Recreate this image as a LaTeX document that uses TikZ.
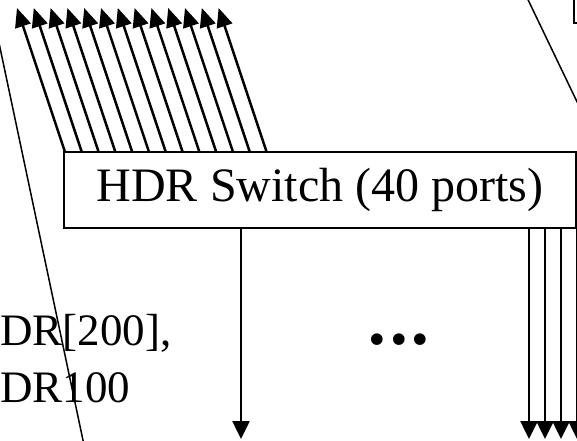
\documentclass[tikz,border=0pt]{standalone}
\usepackage{fontspec}
\setmainfont{Liberation Serif}
\newfontfamily\dejavu{DejaVu Sans}
\usetikzlibrary{arrows.meta}
\begin{document}
\begin{tikzpicture}[x=1pt,y=-1pt,
  conn/.style={line width=2.5pt},
  uparr/.style={conn,-{Triangle[length=19pt,width=16pt]}},
  downarr/.style={conn,-{Triangle[length=18pt,width=17pt]}},
  slant/.style={line width=1.5pt},
  swbox/.style={draw,line width=2.2pt,minimum width=512pt,minimum height=76pt,inner sep=0pt,font=\fontsize{48}{58}\selectfont},
  lbl/.style={anchor=base west,inner sep=0pt,font=\fontsize{45}{57}\selectfont}]
\useasboundingbox (0,0) rectangle (577,440);
\clip (0,0) rectangle (577,440);
\fill[white] (0,0) rectangle (577,440);
% slanted thin lines
\coordinate (l1) at (-5,24);
\coordinate (l2) at (84,445);
\draw[slant] (l1) -- (l2);
\coordinate (r1) at (520,-17);
\coordinate (r2) at (580,108);
\draw[slant] (r1) -- (r2);
% partial box top right
\node[draw,line width=2.2pt,minimum width=60pt,minimum height=60pt,inner sep=0pt,anchor=south west] (tr) at (573,24) {};
% switch
\node[swbox] (sw) at (320,190) {HDR Switch (40 ports)};
% up arrows
\foreach \i in {0,...,12} {
  \coordinate (ub\i) at ({65+16.8*\i},152);
  \coordinate (ut\i) at ({17+16.8*\i},8);
  \draw[uparr] (ub\i) -- (ut\i);
}
% down arrows
\coordinate (db0) at (241,228);
\coordinate (dt0) at (241,439);
\draw[downarr] (db0) -- (dt0);
\foreach \j/\x in {1/529,2/545,3/561,4/577} {
  \coordinate (db\j) at (\x,228);
  \coordinate (dt\j) at (\x,439);
  \draw[downarr] (db\j) -- (dt\j);
}
% dots
\node[inner sep=0pt,font=\dejavu\fontsize{40}{44}\selectfont] (dots) at (399,344) {•\kern-2pt•\kern-2pt•};
% left labels
\node[lbl] (lt1) at (0,345) {DR[200],};
\node[lbl] (lt2) at (0,402) {DR100};
\end{tikzpicture}
\end{document}
